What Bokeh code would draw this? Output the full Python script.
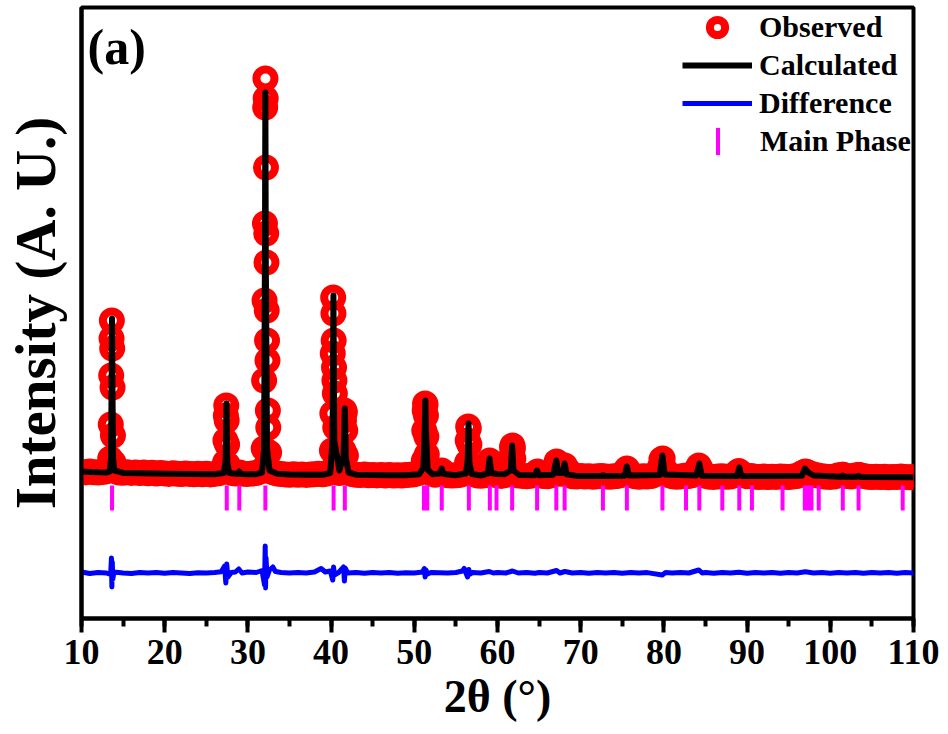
from bokeh.plotting import figure
from bokeh.models import (ColumnDataSource, Range1d, SingleIntervalTicker, FixedTicker,
                          Legend, LegendItem, Label)
from bokeh.embed import file_html
from bokeh.resources import INLINE

FONT = "Liberation Serif"

# ---------------- data ----------------
# observed scan, background points (2theta in degrees, intensity in arbitrary units)
obs_scan_2theta = [
    10.0, 10.5, 11.0, 11.5, 12.0, 12.5, 13.0, 13.5, 14.0, 14.5,
    15.0, 15.5, 16.0, 16.5, 17.0, 17.5, 18.0, 18.5, 19.0, 19.5,
    20.0, 20.5, 21.0, 21.5, 22.0, 22.5, 23.0, 23.5, 24.0, 24.5,
    25.0, 25.5, 26.0, 26.5, 27.0, 27.5, 28.0, 28.5, 29.0, 29.5,
    30.0, 30.5, 31.0, 31.5, 32.0, 32.5, 33.0, 33.5, 34.0, 34.5,
    35.0, 35.5, 36.0, 36.5, 37.0, 37.5, 38.0, 38.5, 39.0, 39.5,
    40.0, 40.5, 41.0, 41.5, 42.0, 42.5, 43.0, 43.5, 44.0, 44.5,
    45.0, 45.5, 46.0, 46.5, 47.0, 47.5, 48.0, 48.5, 49.0, 49.5,
    50.0, 50.5, 51.0, 51.5, 52.0, 52.5, 53.0, 53.5, 54.0, 54.5,
    55.0, 55.5, 56.0, 56.5, 57.0, 57.5, 58.0, 58.5, 59.0, 59.5,
    60.0, 60.5, 61.0, 61.5, 62.0, 62.5, 63.0, 63.5, 64.0, 64.5,
    65.0, 65.5, 66.0, 66.5, 67.0, 67.5, 68.0, 68.5, 69.0, 69.5,
    70.0, 70.5, 71.0, 71.5, 72.0, 72.5, 73.0, 73.5, 74.0, 74.5,
    75.0, 75.5, 76.0, 76.5, 77.0, 77.5, 78.0, 78.5, 79.0, 79.5,
    80.0, 80.5, 81.0, 81.5, 82.0, 82.5, 83.0, 83.5, 84.0, 84.5,
    85.0, 85.5, 86.0, 86.5, 87.0, 87.5, 88.0, 88.5, 89.0, 89.5,
    90.0, 90.5, 91.0, 91.5, 92.0, 92.5, 93.0, 93.5, 94.0, 94.5,
    95.0, 95.5, 96.0, 96.5, 97.0, 97.5, 98.0, 98.5, 99.0, 99.5,
    100.0, 100.5, 101.0, 101.5, 102.0, 102.5, 103.0, 103.5, 104.0, 104.5,
    105.0, 105.5, 106.0, 106.5, 107.0, 107.5, 108.0, 108.5, 109.0, 109.5,
    110.0,
]
obs_scan_int = [
    286, 281, 289, 283, 279, 285, 291, 318, 296, 280,
    277, 283, 276, 281, 274, 279, 272, 277, 270, 275,
    271, 266, 273, 268, 264, 270, 266, 262, 268, 263,
    267, 261, 266, 272, 290, 305, 276, 270, 280, 268,
    264, 270, 275, 290, 330, 300, 282, 270, 265, 261,
    258, 263, 257, 261, 256, 260, 262, 268, 263, 270,
    300, 290, 275, 330, 280, 264, 258, 254, 259, 253,
    256, 251, 255, 250, 254, 249, 253, 250, 254, 257,
    262, 275, 300, 310, 272, 258, 265, 268, 252, 249,
    252, 256, 270, 330, 265, 251, 248, 253, 290, 262,
    250, 246, 255, 290, 268, 250, 246, 243, 248, 262,
    258, 245, 242, 252, 290, 268, 285, 255, 243, 240,
    244, 239, 243, 238, 242, 246, 241, 237, 242, 246,
    258, 300, 256, 242, 238, 243, 239, 245, 262, 330,
    300, 258, 242, 238, 241, 247, 244, 255, 310, 275,
    246, 238, 236, 240, 243, 238, 240, 252, 285, 258,
    243, 245, 238, 235, 239, 234, 238, 236, 240, 237,
    235, 239, 244, 270, 285, 272, 260, 250, 242, 238,
    236, 240, 252, 258, 245, 240, 250, 256, 244, 238,
    235, 238, 234, 237, 233, 236, 234, 239, 235, 233,
    236,
]

# observed points on the Bragg peaks
obs_peak_2theta = [
    13.45, 13.52, 13.57, 13.61, 13.65, 13.69, 13.73, 13.78, 13.85,
    27.25, 27.30, 27.35, 27.40, 27.45, 27.50, 27.56,
    31.90, 31.95, 32.00, 32.05, 32.08, 32.11, 32.14, 32.17, 32.20, 32.23, 32.26, 32.30,
    32.35, 32.40, 32.45, 32.55,
    40.10, 40.15, 40.20, 40.25, 40.28, 40.31, 40.35, 40.40, 40.45, 40.50, 40.60,
    41.50, 41.55, 41.60, 41.65, 41.70, 41.78,
    51.15, 51.20, 51.25, 51.30, 51.35, 51.40, 51.45, 51.50, 51.60,
    53.30,
    56.35, 56.42, 56.48, 56.55, 56.62, 56.70,
    59.00, 59.05, 59.10,
    61.60, 61.70, 61.75, 61.80, 61.85, 61.90, 62.00,
    64.80,
    66.80, 67.10, 67.50, 68.10, 68.50,
    75.30, 75.55, 75.80,
    79.70, 79.85, 80.20,
    84.00, 84.20, 84.40,
    88.80, 89.00, 89.20,
    96.80, 97.00, 97.20,
    101.50, 103.40,
]
obs_peak_int = [
    420, 760, 1250, 1620, 1800, 1520, 1130, 650, 380,
    380, 600, 850, 950, 800, 560, 360,
    520, 1200, 2000, 2770, 3930, 4220, 4020, 3330, 2670, 2380, 1900, 1600,
    1400, 900, 730, 480,
    500, 870, 1470, 2030, 1870, 1600, 1330, 1200, 1070, 730, 450,
    500, 800, 900, 880, 700, 450,
    400, 700, 900, 970, 960, 850, 640, 460, 330,
    300,
    380, 600, 740, 720, 560, 360,
    360, 400, 350,
    330, 450, 530, 550, 520, 420, 310,
    290,
    300, 390, 330, 350, 300,
    290, 320, 290,
    410, 420, 300,
    320, 350, 320,
    280, 295, 280,
    280, 290, 285,
    258, 256,
]

# calculated profile (vertices of the refined curve)
calc_2theta = [
    10.0, 11.0, 12.0, 13.0, 13.4, 13.55, 13.62, 13.67, 13.72, 13.8, 13.95,
    15.0, 17.0, 20.0, 23.0, 26.0, 27.1, 27.33, 27.43, 27.52, 27.75,
    28.8, 28.97, 29.15, 30.0, 31.0, 31.7, 31.95, 32.05, 32.1, 32.15, 32.3, 32.6,
    33.5, 35.0, 37.0, 39.0, 39.9, 40.18, 40.28, 40.38, 41.0, 41.5, 41.65, 41.78, 42.1,
    43.0, 45.0, 47.0, 49.0, 50.6, 51.1, 51.25, 51.33, 51.42, 51.6, 52.2,
    53.1, 53.3, 53.5, 55.0, 56.2, 56.42, 56.52, 56.62, 56.9,
    58.0, 58.85, 59.05, 59.25, 59.9, 60.8, 61.6, 61.76, 61.92, 62.6,
    64.5, 64.76, 65.0, 66.7, 67.07, 67.3, 67.85, 68.07, 68.3, 69.5,
    72.5, 72.67, 72.85, 75.3, 75.55, 75.8, 79.5, 79.82, 80.1,
    83.9, 84.26, 84.55, 88.8, 89.06, 89.3, 96.6, 96.94, 97.35, 98.0,
    101.3, 101.5, 101.7, 103.2, 103.4, 103.6, 110.0,
]
calc_int = [
    290, 286, 282, 280, 288, 420, 1200, 1820, 1150, 420, 300,
    276, 272, 268, 265, 262, 275, 400, 970, 380, 275,
    265, 290, 265, 262, 263, 280, 520, 2500, 4080, 2400, 520, 300,
    268, 260, 257, 258, 275, 600, 2050, 600, 300, 450, 920, 420, 280,
    258, 254, 252, 252, 262, 330, 700, 1000, 650, 310, 262,
    270, 320, 265, 252, 270, 400, 770, 380, 265,
    250, 270, 420, 275, 265, 262, 300, 550, 300, 255,
    252, 300, 252, 258, 400, 275, 275, 370, 262, 246,
    244, 255, 244, 248, 340, 250, 255, 450, 260,
    250, 370, 248, 245, 330, 245, 248, 320, 280, 250,
    238, 250, 238, 237, 248, 236, 232,
]

# difference curve (observed - calculated)
diff_2theta = [
    10.0, 11.0, 12.0, 13.0, 13.5, 13.6, 13.65, 13.7, 13.76, 13.9,
    15.0, 16.0, 17.0, 18.0, 19.0, 20.0, 21.0, 22.0, 23.0, 24.0, 25.0, 26.0,
    26.8, 27.2, 27.35, 27.45, 27.6, 28.0, 28.5, 28.9, 29.3, 30.0, 31.0,
    31.7, 32.0, 32.08, 32.12, 32.18, 32.3, 32.6, 33.0, 33.3, 34.0, 35.0, 36.0,
    37.0, 38.0, 38.8, 39.3, 39.9, 40.2, 40.3, 40.4, 40.9, 41.5, 41.6, 41.7,
    42.0, 43.0, 44.0, 45.0, 46.0, 47.0, 48.0, 49.0, 50.0, 51.0, 51.2, 51.3,
    51.4, 51.6, 52.0, 53.0, 54.0, 55.0, 55.8, 56.0, 56.4, 56.55, 56.7, 57.0,
    58.0, 59.0, 59.5, 60.0, 61.0, 61.8, 62.5, 63.5, 64.5, 65.0, 66.0, 67.1,
    67.5, 68.1, 69.0, 70.0, 71.0, 72.0, 73.0, 74.0, 75.0, 76.0, 77.0, 78.0,
    79.8, 80.2, 81.0, 82.0, 83.0, 84.2, 84.6, 85.0, 86.0, 87.0, 88.0, 89.0,
    90.0, 91.0, 92.0, 93.0, 94.0, 95.0, 96.0, 97.0, 98.0, 99.0, 100.0, 101.0,
    102.0, 103.0, 104.0, 105.0, 106.0, 107.0, 108.0, 109.0, 110.0,
]
diff_int = [
    10, -5, 5, 0, -15, 150, -140, 110, -60, 10,
    0, -5, 5, 0, 4, -3, 5, 0, -4, 3, 0, 5,
    12, 70, -100, 90, -40, 5, 10, 40, 0, 10, 5,
    25, -120, 270, -150, 150, -40, 30, 60, 15, 5, 0, 5,
    0, 10, 45, 10, 20, -70, 60, -20, 5, 60, -80, 50,
    0, 5, -3, 4, 0, 5, -2, 3, 0, 10, 45, -40,
    30, -10, 5, 3, 0, 5, 20, 45, -40, 35, -10, 5,
    0, 15, 0, 5, 0, 20, 0, 5, -3, 5, 0, 25,
    0, 15, 0, 5, -3, 4, 0, 5, -3, 5, 0, 4,
    -20, 5, 0, 5, 0, 30, 0, 5, -3, 4, 0, 8,
    -3, 5, 0, 4, -3, 5, 0, 12, 0, 5, -3, 4,
    0, 5, -3, 4, 0, 5, -3, 4, 0,
]
diff_offset = -725

# Bragg reflection positions of the main phase
phase_2theta = [
    13.67, 27.46, 28.97, 32.10, 40.30, 41.65, 51.16, 51.56, 53.30, 56.56,
    59.08, 59.88, 61.76, 64.76, 67.07, 68.07, 72.67, 75.55, 79.82, 82.66,
    84.26, 87.02, 89.06, 90.58, 94.26, 96.94, 97.34, 97.74, 98.61, 101.50,
    103.40, 108.70,
]
phase_level = 25

x_ticks_interval = 10

# ---------------- figure ----------------
p = figure(width=948, height=734, output_backend="svg", toolbar_location=None,
           x_range=Range1d(10, 110), y_range=Range1d(-1180, 4930),
           min_border_left=80, min_border_right=35, min_border_top=7, min_border_bottom=116,
           background_fill_color="white", border_fill_color="white")
p.xgrid.visible = False
p.ygrid.visible = False
p.outline_line_color = "black"
p.outline_line_width = 4

obs_src = ColumnDataSource(dict(x=obs_scan_2theta + obs_peak_2theta,
                                y=obs_scan_int + obs_peak_int))
r_obs = p.scatter("x", "y", source=obs_src, marker="circle", size=18,
                  line_color="#ff0000", line_width=8, fill_color=None)

r_calc = p.line(calc_2theta, calc_int, line_color="black", line_width=6,
                line_join="round")

r_diff = p.line(diff_2theta, [v + diff_offset for v in diff_int], line_color="#0000ff",
                line_width=5, line_join="round")

r_phase = p.rect(x=phase_2theta, y=[phase_level] * len(phase_2theta),
                 width=4, height=25, width_units="screen", height_units="screen",
                 fill_color="#ff00ff", line_color=None)

# axes
xa = p.xaxis[0]
xa.ticker = SingleIntervalTicker(interval=x_ticks_interval, num_minor_ticks=2)
xa.axis_line_width = 4
xa.axis_line_color = "black"
xa.major_tick_line_width = 4
xa.major_tick_out = 14
xa.major_tick_in = 0
xa.minor_tick_line_width = 4
xa.minor_tick_out = 8
xa.minor_tick_in = 0
xa.major_label_text_font = FONT
xa.major_label_text_font_size = "36px"
xa.major_label_text_font_style = "bold"
xa.major_label_text_color = "black"
xa.major_label_standoff = 7
xa.axis_label = "2θ (°)"
xa.axis_label_text_font = FONT
xa.axis_label_text_font_size = "46px"
xa.axis_label_text_font_style = "bold"
xa.axis_label_text_color = "black"
xa.axis_label_standoff = 4

ya = p.yaxis[0]
ya.ticker = FixedTicker(ticks=[])
ya.axis_line_width = 4
ya.axis_line_color = "black"
ya.major_tick_line_color = None
ya.minor_tick_line_color = None
ya.major_label_text_font_size = "0px"
ya.axis_label = "Intensity (A. U.)"
ya.axis_label_text_font = FONT
ya.axis_label_text_font_size = "57px"
ya.axis_label_text_font_style = "bold"
ya.axis_label_text_color = "black"
ya.axis_label_standoff = 15

legend_style = dict(orientation="vertical", padding=0, margin=0, spacing=0,
                    label_text_font=FONT, label_text_font_size="30px",
                    label_text_font_style="bold", label_text_color="black",
                    border_line_color=None, background_fill_alpha=0)

legend_main = Legend(
    items=[LegendItem(label="Observed", renderers=[r_obs]),
           LegendItem(label="Calculated", renderers=[r_calc]),
           LegendItem(label="Difference", renderers=[r_diff])],
    location=(601, 496), glyph_width=70, glyph_height=38, label_height=30,
    label_standoff=7, **legend_style)
p.add_layout(legend_main)

legend_phase = Legend(
    items=[LegendItem(label="Main Phase", renderers=[r_phase])],
    location=(634, 460), glyph_width=5, glyph_height=34, label_height=30,
    label_standoff=40, **legend_style)
p.add_layout(legend_phase)

p.add_layout(Label(x=6, y=572, x_units="screen", y_units="screen", text="(a)",
                   text_font=FONT, text_font_size="50px", text_font_style="bold",
                   text_baseline="middle", text_color="black"))

open("out.html", "w").write(file_html(p, INLINE))
